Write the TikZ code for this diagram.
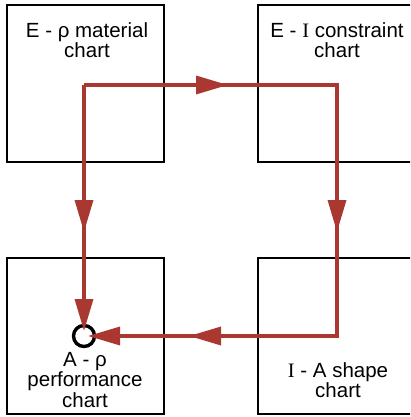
\documentclass[tikz,border=0pt]{standalone}
\usepackage{fontspec}
\setmainfont{Liberation Sans}
\newfontfamily\romanI{Liberation Serif}
\usepackage{tikz}
\usetikzlibrary{arrows.meta}
\definecolor{flowred}{RGB}{168, 56, 48}

\begin{document}
\begin{tikzpicture}[x=1pt, y=-1pt,
        chartbox/.style={draw=black, line width=2.2pt},
        charttext/.style={align=center, inner sep=0pt, anchor=north, font=\fontsize{20.5}{20.5}\selectfont},
        flow/.style={draw=flowred, line width=3.4pt},
        flowtip/.style={flow, -{Triangle[length=32pt, width=18pt]}}]
        \useasboundingbox (0,0) rectangle (410,417);

        % the four charts
        \begin{scope}
            \clip (0,0) rectangle (410,417);
            \draw[chartbox] (7,5) rectangle (164,162);
            \draw[chartbox] (258,5) rectangle (420,162);
            \draw[chartbox] (7,258) rectangle (164,414);
            \draw[chartbox] (258,258) rectangle (420,414);
        \end{scope}

        \node[charttext] (matlabel) at (87,22) {E - ρ material\\chart};
        \node[charttext] (conlabel) at (337,22) {E - {\romanI I} constraint\\chart};
        \node[charttext] (perflabel) at (85,352) {A - ρ\\performance\\chart};
        \node[charttext] (shapelabel) at (338,362) {{\romanI I} - A shape\\chart};

        % the design point
        \node[circle, draw=black, line width=3.4pt, minimum size=21pt, inner sep=0pt] (target) at (84,336) {};

        % the route through the charts
        \coordinate (turn) at (84,85);
        \coordinate (toptip) at (228,85);
        \coordinate (corner) at (337,85);
        \coordinate (righttip) at (337,232);
        \coordinate (bend) at (337,336);
        \coordinate (lowtip) at (189,336);
        \coordinate (lefttip) at (84,232);

        \draw[flow] (turn) -- (corner) -- (bend) -- (lowtip);
        \draw[flow] (turn) -- (lefttip);
        \draw[flowtip] (turn) -- (toptip);
        \draw[flowtip] (corner) -- (righttip);
        \draw[flowtip] (bend) -- (lowtip);
        \draw[flowtip] (lowtip) -- (88,336);
        \draw[flowtip] (turn) -- (lefttip);
        \draw[flowtip] (lefttip) -- (84,331);
\end{tikzpicture}
\end{document}
